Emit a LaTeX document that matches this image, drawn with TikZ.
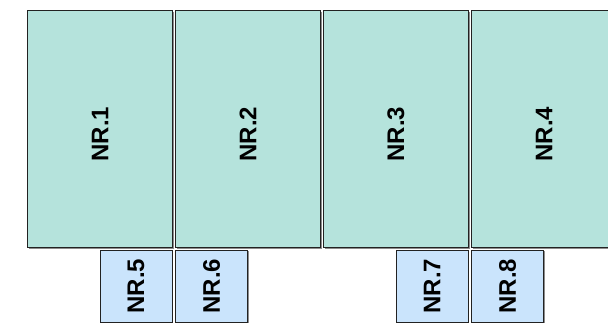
\documentclass[tikz,border=0pt]{standalone}
\usepackage{fontspec}
\setmainfont{Liberation Sans}
\usetikzlibrary{shadows}
\definecolor{bigfill}{RGB}{181,227,220}
\definecolor{smallfill}{RGB}{202,228,252}
\definecolor{edge}{RGB}{34,34,34}
\begin{document}
\begin{tikzpicture}[x=1pt,y=-1pt,
  box/.style={draw=edge, line width=1pt, anchor=north west, inner sep=0pt,
    drop shadow={shadow xshift=1.2pt, shadow yshift=-1.2pt, fill=black!45, opacity=1}},
  bigbox/.style={box, fill=bigfill, minimum width=145pt, minimum height=237pt},
  smallbox/.style={box, fill=smallfill, minimum width=72pt, minimum height=72pt},
  lbl/.style={rotate=90, text=black, font=\bfseries\fontsize{24}{28}\selectfont}]
\useasboundingbox (0,0) rectangle (608,335);
\clip (0,0) rectangle (608,335);
\node[bigbox] (b1) at (27,10) {};
\node[bigbox] (b2) at (175,10) {};
\node[bigbox] (b3) at (323,10) {};
\node[bigbox] (b4) at (471,10) {};
\node[smallbox] (s5) at (99.5,249.5) {};
\node[smallbox] (s6) at (175,249.5) {};
\node[smallbox] (s7) at (395.5,249.5) {};
\node[smallbox] (s8) at (471,249.5) {};
\foreach \n/\t in {b1/NR.1,b2/NR.2,b3/NR.3,b4/NR.4}
  \node[lbl] (t\n) at ([yshift=-5pt]\n.center) {\t};
\foreach \n/\t in {s5/NR.5,s6/NR.6,s7/NR.7,s8/NR.8}
  \node[lbl] (t\n) at (\n.center) {\t};
\end{tikzpicture}
\end{document}
